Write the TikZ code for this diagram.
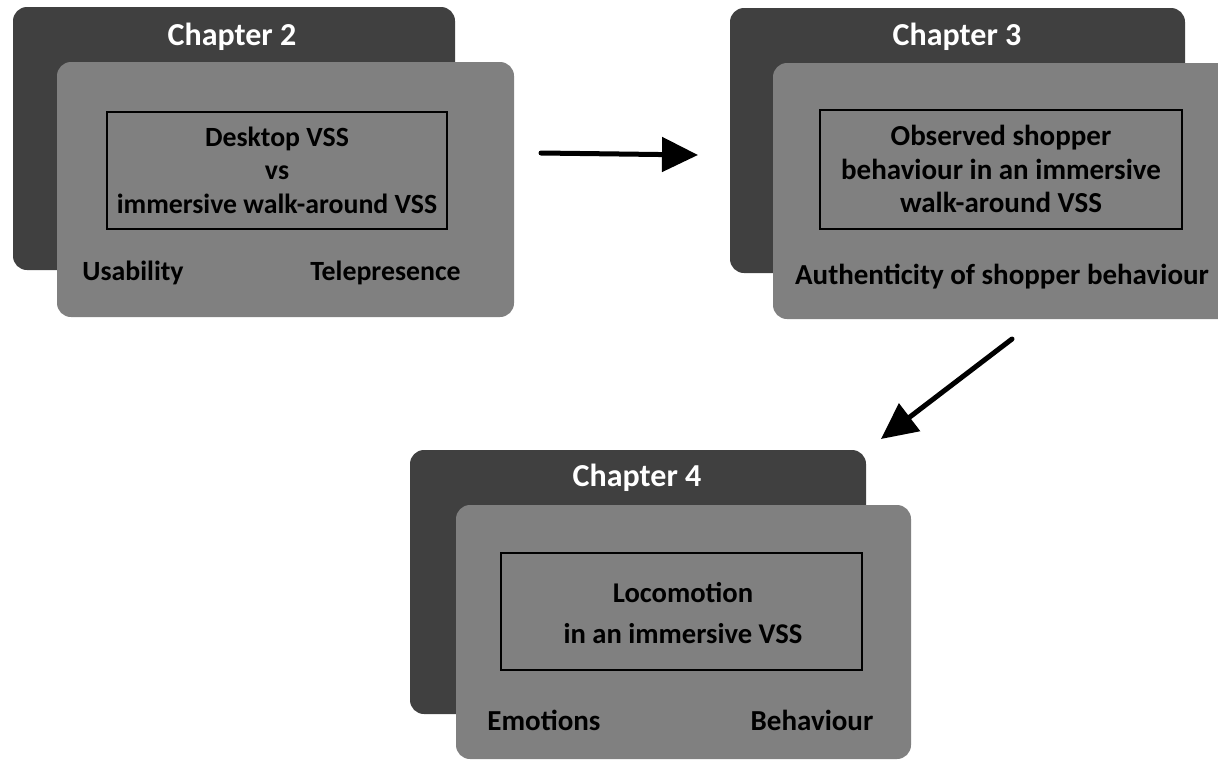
\documentclass[tikz,border=0pt]{standalone}
\usepackage{fontspec}
\setmainfont{Carlito}
\usetikzlibrary{arrows.meta}
\definecolor{darkbox}{HTML}{404040}
\definecolor{lightbox}{HTML}{808080}
\begin{document}
\begin{tikzpicture}[x=1pt,y=-1pt,
  backbox/.style={fill=darkbox,rounded corners=14pt,inner sep=0pt},
  frontbox/.style={fill=lightbox,rounded corners=14pt,inner sep=0pt},
  innerbox/.style={draw=black,line width=2.5pt,inner sep=0pt},
  titletext/.style={text=white,font=\bfseries\fontsize{32}{36}\selectfont},
  bodytext/.style={text=black,font=\bfseries\fontsize{29}{33.5}\selectfont,align=center},
  smalltext/.style={bodytext,font=\bfseries\fontsize{27.8}{33.5}\selectfont},
  arr/.style={line width=5pt,line cap=round,-{Triangle[length=36pt,width=34pt]}}]
\useasboundingbox (0,0) rectangle (1218,761);
% Chapter 2
\node[backbox,minimum width=442,minimum height=263] (c2back) at (234,138.5) {};
\node[frontbox,minimum width=457,minimum height=255] (c2front) at (285.5,189.5) {};
\node[innerbox,minimum width=340,minimum height=117] (c2inner) at (277,170.5) {};
\node[titletext] (c2title) at (232,37) {Chapter 2};
\node[smalltext] (c2text) at (277,170) {Desktop VSS\\vs\\immersive walk-around VSS};
\node[smalltext] (c2l) at (133,273) {Usability};
\node[smalltext] (c2r) at (385.5,273) {Telepresence};
% Chapter 3
\node[backbox,minimum width=455,minimum height=265] (c3back) at (957.5,140.5) {};
\node[frontbox,minimum width=460,minimum height=256] (c3front) at (1003,191) {};
\node[innerbox,minimum width=362,minimum height=119] (c3inner) at (1001,169.5) {};
\node[titletext] (c3title) at (957,37) {Chapter 3};
\node[bodytext] (c3text) at (1001,169) {Observed shopper\\behaviour in an immersive\\walk-around VSS};
\node[bodytext] (c3l) at (1002,277) {Authenticity of shopper behaviour};
% Chapter 4
\node[backbox,minimum width=456,minimum height=264] (c4back) at (638,582) {};
\node[frontbox,minimum width=455,minimum height=254] (c4front) at (683.5,632) {};
\node[innerbox,minimum width=361,minimum height=117] (c4inner) at (681.5,611.5) {};
\node[titletext] (c4title) at (637,478) {Chapter 4};
\node[bodytext,font=\bfseries\fontsize{28.6}{41}\selectfont] (c4text) at (683,613) {Locomotion\\in an immersive VSS};
\node[bodytext] (c4l) at (544,720) {Emotions};
\node[bodytext] (c4r) at (812,720) {Behaviour};
% Arrows
\coordinate (a1s) at (541,153);
\coordinate (a1e) at (698,155);
\coordinate (a2s) at (1012,339);
\coordinate (a2e) at (881,439);
\draw[arr] (a1s) -- (a1e);
\draw[arr] (a2s) -- (a2e);
\end{tikzpicture}
\end{document}
